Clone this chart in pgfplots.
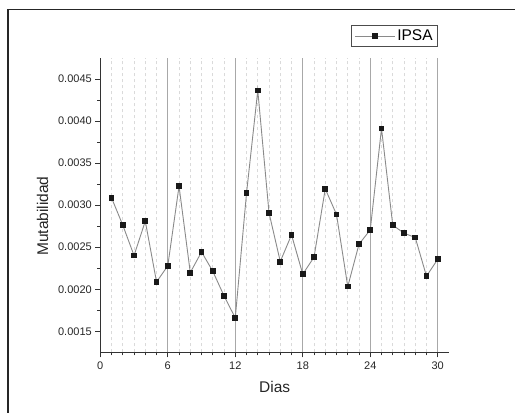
\documentclass[border=0pt]{standalone}
\usepackage{pgfplots}
\pgfplotsset{compat=1.18}
\usepackage{fontspec}
\setmainfont{Liberation Sans}

\definecolor{axcol}{HTML}{333333}
\definecolor{linecol}{HTML}{8A8A8A}
\definecolor{majgrid}{HTML}{A8A8A8}
\definecolor{mingrid}{HTML}{DADADA}

\begin{document}
\begin{tikzpicture}[x=1pt,y=1pt]
  % page and outer frame
  \path[use as bounding box] (0,0) rectangle (515,413);
  \draw[line width=1.6pt, color=black!85] (8,0) -- (8,403.5) -- (515,403.5);

  \begin{axis}[
    at={(100.3pt,60.7pt)}, anchor=south west,
    scale only axis, width=348.7pt, height=294.3pt,
    xmin=0, xmax=31, ymin=0.00125, ymax=0.00475,
    axis x line*=bottom, axis y line*=left,
    axis line style={line width=1.3pt, color=axcol, -},
    xtick={0,6,...,30}, minor x tick num=5,
    ytick={0.0015,0.0020,...,0.0045}, minor y tick num=1,
    tick align=outside,
    major tick length=5pt, minor tick length=3pt,
    tick style={line width=1pt, color=axcol},
    xmajorgrids, xminorgrids,
    major grid style={line width=0.9pt, color=majgrid, solid},
    minor grid style={line width=0.6pt, color=mingrid, dashed},
    scaled y ticks=false,
    yticklabel style={/pgf/number format/.cd, fixed, fixed zerofill, precision=4},
    /pgf/number format/assume math mode=true,
    ticklabel style={font=\fontsize{11}{13}\selectfont, color=black!85},
    xticklabel style={yshift=-0.5pt},
    xlabel={Dias}, ylabel={Mutabilidad},
    label style={font=\fontsize{15.5}{18}\selectfont, color=black!85},
    xlabel style={yshift=-5pt},
    ylabel style={at={(ticklabel cs:0.463)}, yshift=3pt},
    legend style={at={(axis description cs:0.9685,1.112)}, anchor=north east,
      draw=black!70, line width=0.8pt, font=\fontsize{15.5}{18}\selectfont,
      inner xsep=3pt, inner ysep=2.5pt},
    legend cell align=left,
    legend image code/.code={%
      \draw[#1, mark repeat=2, mark phase=2] plot coordinates {(0pt,0pt) (20pt,0pt) (40pt,0pt)};},
  ]
    \addplot[color=linecol, line width=0.9pt, mark=square*,
             mark size=2.4pt, mark options={solid, fill=black!90, draw=black!90}]
      coordinates {
        (1,0.003087) (2,0.002762) (3,0.002401) (4,0.002810) (5,0.002087)
        (6,0.002278) (7,0.003226) (8,0.002198) (9,0.002444) (10,0.002214)
        (11,0.001921) (12,0.001659) (13,0.003143) (14,0.004365) (15,0.002909)
        (16,0.002329) (17,0.002647) (18,0.002179) (19,0.002381) (20,0.003194)
        (21,0.002889) (22,0.002032) (23,0.002536) (24,0.002706) (25,0.003913)
        (26,0.002762) (27,0.002667) (28,0.002615) (29,0.002155) (30,0.002357)
      };
    \addlegendentry{IPSA}
  \end{axis}
\end{tikzpicture}
\end{document}
